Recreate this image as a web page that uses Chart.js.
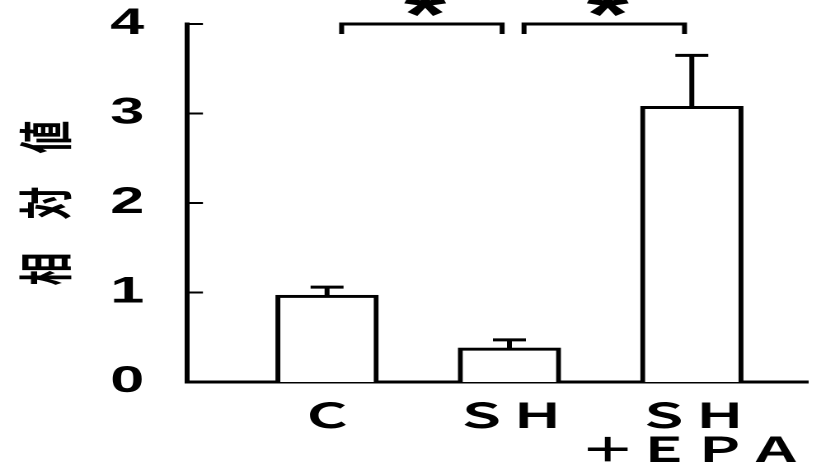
<!DOCTYPE html>
<html>
<head>
<meta charset="utf-8">
<script src="https://cdn.jsdelivr.net/npm/chart.js@4/dist/chart.umd.min.js"></script>
<style>
  html, body { margin: 0; padding: 0; background: #fff; overflow: hidden; }
  /* the original figure is stretched sideways, so the whole chart is drawn narrow and widened */
  #wrap { width: 498px; height: 470px; transform: scaleX(1.6486); transform-origin: 0 0; }
</style>
</head>
<body>
<div id="wrap"><canvas id="chart"></canvas></div>
<script>
// ===== data =====
const categories = ['Ｃ', 'ＳＨ', ['ＳＨ', '＋ＥＰＡ']];
const means = [0.97, 0.38, 3.08];
const errors = [0.09, 0.09, 0.57];
const yTicks = [0, 1, 2, 3, 4];
const yTitle = '相　対　値';
// significance brackets between bar pairs
const comparisons = [[0, 1], [1, 2]];
const marks = ['*', '*'];

function line(ctx, x1, y1, x2, y2) {
  ctx.beginPath();
  ctx.moveTo(x1, y1);
  ctx.lineTo(x2, y2);
  ctx.stroke();
}

// drop the extra room Chart.js keeps for half labels
function noPad(s) {
  s.paddingLeft = 0;
  s.paddingRight = 0;
  s.paddingTop = 0;
  s.paddingBottom = 0;
}

// Error bars, inward ticks, brackets
const annotate = {
  id: 'annotate',
  afterDraw(chart) {
    const { ctx, scales: { x, y } } = chart;
    ctx.save();
    ctx.strokeStyle = '#000';
    ctx.fillStyle = '#000';

    // error bars (upper only)
    means.forEach((m, i) => {
      const px = x.getPixelForValue(i);
      const base = y.getPixelForValue(m);
      const top = y.getPixelForValue(m + errors[i]);
      ctx.lineWidth = 3;
      line(ctx, px, base, px, top);
      line(ctx, px - 10, top, px + 10, top);
    });

    // tick marks pointing into the plot
    ctx.lineWidth = 2;
    yTicks.forEach(v => {
      const py = y.getPixelForValue(v);
      line(ctx, x.left, py, x.left + 9.7, py);
    });

    // brackets and asterisks
    ctx.lineWidth = 3;
    comparisons.forEach(([a, b], k) => {
      const x1 = x.getPixelForValue(a + 0.08);
      const x2 = x.getPixelForValue(b - 0.04);
      const yy = y.getPixelForValue(4);
      ctx.beginPath();
      ctx.moveTo(x1, yy + 10);
      ctx.lineTo(x1, yy);
      ctx.lineTo(x2, yy);
      ctx.lineTo(x2, yy + 10);
      ctx.stroke();
      ctx.font = 'bold 66px "Liberation Sans"';
      ctx.textAlign = 'center';
      ctx.textBaseline = 'alphabetic';
      ctx.fillText(marks[k], (x1 + x2) / 2 + 2, 37);
    });
    ctx.restore();
  }
};

new Chart(document.getElementById('chart'), {
  type: 'bar',
  data: {
    datasets: [{
      data: means.map((m, i) => ({ x: i, y: m })),
      backgroundColor: '#fff',
      borderColor: '#000',
      borderWidth: 3,
      barThickness: 62
    }]
  },
  options: {
    responsive: true,
    maintainAspectRatio: false,
    devicePixelRatio: 2,
    animation: false,
    layout: { autoPadding: false, padding: { top: 24, right: 8, left: 0, bottom: 0 } },
    plugins: { legend: { display: false }, tooltip: { enabled: false } },
    scales: {
      x: {
        type: 'linear',
        min: -0.768,
        max: 2.636,
        offset: false,
        z: 1,
        afterBuildTicks: s => { s.ticks = categories.map((_, i) => ({ value: i })); },
        afterFit: s => { s.height = 88; noPad(s); },
        grid: { display: false, drawTicks: false },
        border: { display: true, width: 3, color: '#000' },
        ticks: {
          padding: 16,
          color: '#000',
          autoSkip: false,
          maxRotation: 0,
          minRotation: 0,
          font: { family: '"Noto Sans CJK JP"', size: 34, weight: 'bold', lineHeight: 1 },
          callback: v => categories[v]
        }
      },
      y: {
        min: 0,
        max: 4,
        afterBuildTicks: s => { s.ticks = yTicks.map(v => ({ value: v })); },
        afterFit: s => { s.width = 113.4; noPad(s); },
        grid: { display: false, drawTicks: false },
        border: { display: true, width: 3, color: '#000' },
        ticks: {
          padding: 26,
          color: '#000',
          font: { family: '"Liberation Sans"', size: 37, weight: 'bold' }
        },
        title: {
          display: true,
          text: yTitle,
          color: '#000',
          padding: { top: 11 },
          font: { family: '"Noto Sans CJK JP"', size: 33, weight: 'bold', lineHeight: 1 }
        }
      }
    }
  },
  plugins: [annotate]
});
</script>
</body>
</html>
